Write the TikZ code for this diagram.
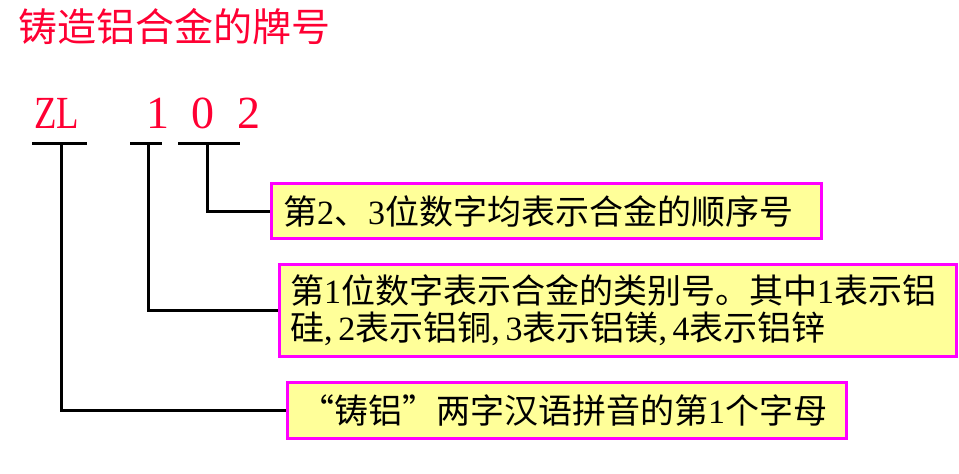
\documentclass[tikz,border=0pt]{standalone}
\usepackage{graphicx}
\usepackage{fontspec}
\setmainfont{Liberation Serif}
\newfontfamily\cjk{Noto Sans CJK SC}
\newfontfamily\lat{Liberation Serif}
\definecolor{titlered}{HTML}{FF0033}
\definecolor{boxfill}{HTML}{FFFF99}
\definecolor{boxline}{HTML}{FF00FF}
\begin{document}
\begin{tikzpicture}[x=1pt,y=-1pt,
  box/.style={draw=boxline, fill=boxfill, line width=3pt, inner sep=0pt, anchor=north west},
  txt/.style={font=\cjk\fontsize{34}{37}\selectfont, inner sep=0pt, anchor=west, align=left},
  conn/.style={line width=3pt},
  code/.style={text=titlered, font=\lat\fontsize{46}{46}\selectfont, inner sep=0pt, anchor=base}]
\useasboundingbox (0,0) rectangle (959,474);
\node[anchor=base west, inner sep=0pt, text=titlered, font=\cjk\fontsize{39}{39}\selectfont] (title) at (18,41) {铸造铝合金的牌号};
\node[code] (zl) at (56.5,128) {\scalebox{0.8}[1]{ZL}};
\node[code] (d1) at (158,128) {1};
\node[code] (d2) at (203,128) {0};
\node[code] (d3) at (249,128) {2};
% underlines
\coordinate (zA) at (32,143); \coordinate (zB) at (87,143); \coordinate (zM) at (61,143);
\coordinate (aA) at (130,143); \coordinate (aB) at (162,143); \coordinate (aM) at (148,143);
\coordinate (bA) at (178,143); \coordinate (bB) at (240,143); \coordinate (bM) at (207,143);
\draw[conn] (zA) -- (zB);
\draw[conn] (aA) -- (aB);
\draw[conn] (bA) -- (bB);
% boxes
\node[box, minimum width=550pt, minimum height=55pt] (b1) at (270,182) {};
\node[box, minimum width=677pt, minimum height=92pt] (b2) at (278,263) {};
\node[box, minimum width=559pt, minimum height=56pt] (b3) at (286,381) {};
\draw[conn] (bM) |- (b1.west);
\draw[conn] (aM) |- (b2.west);
\draw[conn] (zM) |- (b3.west);
\node[txt] (t1) at ([xshift=13pt]b1.west) {第{\lat 2}、{\lat 3}位数字均表示合金的顺序号};
\node[txt] (t2) at ([xshift=12pt]b2.west) {第{\lat 1}位数字表示合金的类别号。其中{\lat 1}表示铝\\硅{\lat ,\,2}表示铝铜{\lat ,\,3}表示铝镁{\lat ,\,4}表示铝锌};
\node[txt] (t3) at ([xshift=14pt]b3.west) {“铸铝”两字汉语拼音的第{\lat 1}个字母};
\end{tikzpicture}
\end{document}
